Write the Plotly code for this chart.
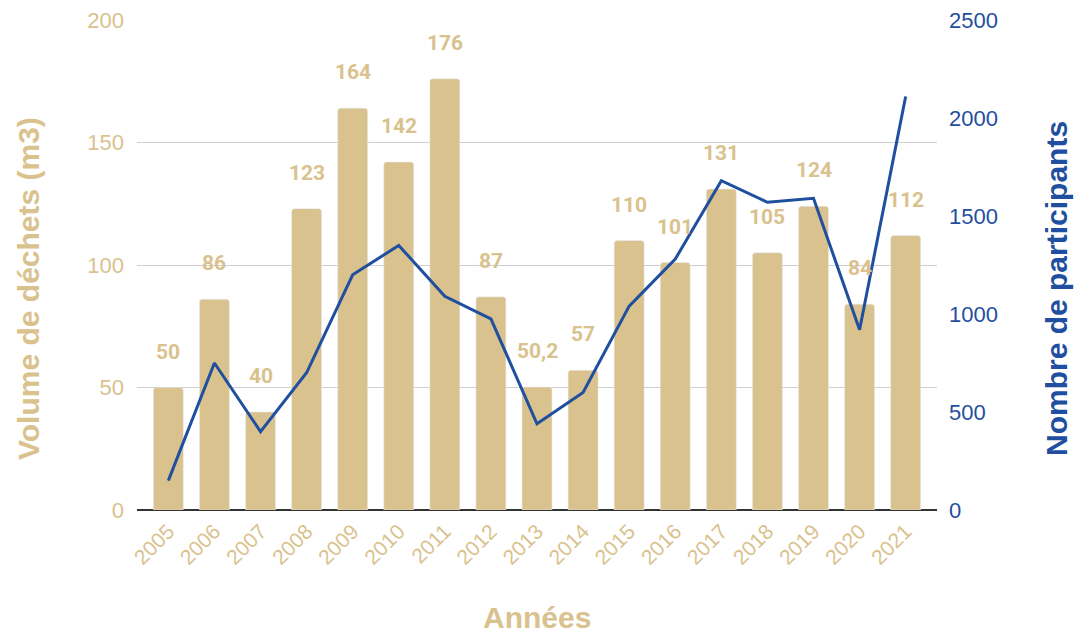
import plotly.graph_objects as go

# data
annees = ["2005", "2006", "2007", "2008", "2009", "2010", "2011", "2012", "2013",
          "2014", "2015", "2016", "2017", "2018", "2019", "2020", "2021"]
volume = [50, 86, 40, 123, 164, 142, 176, 87, 50.2, 57, 110, 101, 131, 105, 124, 84, 112]
volume_labels = ["50", "86", "40", "123", "164", "142", "176", "87", "50,2", "57",
                 "110", "101", "131", "105", "124", "84", "112"]
participants = [150, 750, 400, 700, 1200, 1350, 1090, 975, 440, 600,
                1040, 1280, 1680, 1570, 1590, 920, 2110]

gold = "#D9C28E"
blue = "#1F4F9E"
font_main = "Liberation Sans, Arial, sans-serif"

W, H = 1074, 637
ml, mr, mt, mb = 137, 137, 20, 127
pw, ph = W - ml - mr, H - mt - mb


def px_to_paper(x, y):
    return (x - ml) / pw, (H - mb - y) / ph


fig = go.Figure()

# bars: waste volume
fig.add_trace(go.Bar(
    x=annees, y=volume,
    marker=dict(color=gold, cornerradius=3),
    yaxis="y",
))

# line: participants
fig.add_trace(go.Scatter(
    x=annees, y=participants,
    mode="lines",
    line=dict(color=blue, width=3),
    yaxis="y2",
))

# value labels above bars
annotations = []
for i, (v, lab) in enumerate(zip(volume, volume_labels)):
    annotations.append(dict(
        x=i, y=v, xref="x", yref="y",
        text="<b>" + lab + "</b>",
        showarrow=False, yanchor="bottom", yshift=22,
        font=dict(family="Roboto, sans-serif", size=21, color=gold),
    ))

# axis titles (placed by pixel position of their centre)
titles = [
    ("<b>Volume de déchets (m3)</b>", 29, 289, -90, gold),
    ("<b>Nombre de participants</b>", 1057, 289, -90, blue),
    ("<b>Années</b>", 537, 617, 0, gold),
]
for txt, px, py, ang, col in titles:
    x, y = px_to_paper(px, py)
    annotations.append(dict(
        x=x, y=y, xref="paper", yref="paper", text=txt,
        xanchor="center", yanchor="middle",
        showarrow=False, textangle=ang,
        font=dict(family=font_main, size=30, color=col),
    ))

fig.update_layout(
    width=W, height=H,
    margin=dict(l=ml, r=mr, t=mt, b=mb, pad=0, autoexpand=False),
    plot_bgcolor="white",
    paper_bgcolor="white",
    showlegend=False,
    bargap=0.35,
    font=dict(family=font_main),
    annotations=annotations,
    xaxis=dict(
        type="category",
        range=[-0.68, 16.68],
        tickangle=-45,
        tickfont=dict(size=21, color=gold),
        showgrid=False,
        showline=False,
        ticks="",
        ticklabelstandoff=4,
        automargin=False,
    ),
    yaxis=dict(
        range=[0, 200],
        tickvals=[0, 50, 100, 150, 200],
        tickfont=dict(size=22, color=gold),
        gridcolor="#CFCFCF",
        gridwidth=1,
        zeroline=True,
        zerolinecolor="#333333",
        zerolinewidth=2,
        ticks="",
        ticklabelstandoff=12,
        automargin=False,
    ),
    yaxis2=dict(
        range=[0, 2500],
        tickvals=[0, 500, 1000, 1500, 2000, 2500],
        overlaying="y",
        side="right",
        showgrid=False,
        zeroline=False,
        tickfont=dict(size=22, color=blue),
        ticks="",
        ticklabelstandoff=11,
        automargin=False,
    ),
)

# page body has a default margin; remove it so the figure fills the window
fig.write_html("out.html", config={"displayModeBar": False},
               post_script="document.body.style.margin='0';")
